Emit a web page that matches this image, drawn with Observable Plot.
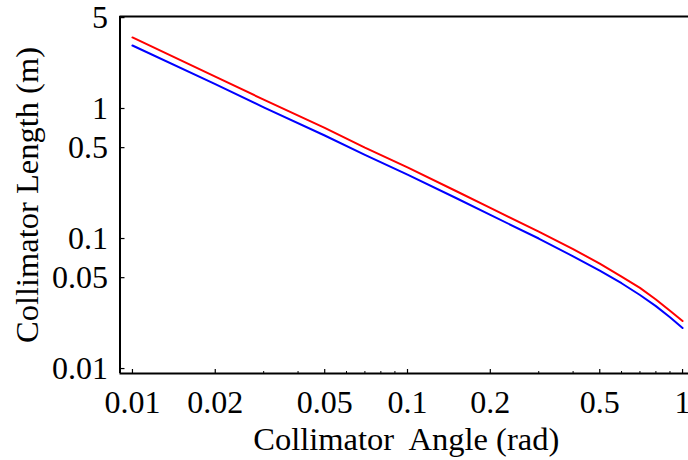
<!DOCTYPE html>
<html>
<head>
<meta charset="utf-8">
<script src="https://cdn.jsdelivr.net/npm/d3@7"></script>
<script src="https://cdn.jsdelivr.net/npm/@observablehq/plot@0.6"></script>
<style>
  html, body { margin: 0; padding: 0; background: white; }
</style>
</head>
<body>
<div id="chart"></div>
<script>
const angles      = [0.01, 0.02, 0.03, 0.05, 0.07, 0.1, 0.15, 0.2, 0.3, 0.4, 0.5, 0.6, 0.7, 0.8, 0.9, 1.0];
const redLength   = [3.52, 1.76, 1.17, 0.71, 0.50, 0.352, 0.232, 0.172, 0.113, 0.083, 0.064, 0.051, 0.0417, 0.0340, 0.0278, 0.0232];
const blueLength  = [3.05, 1.54, 1.02, 0.62, 0.44, 0.31, 0.205, 0.152, 0.100, 0.073, 0.0566, 0.0453, 0.0368, 0.0302, 0.0248, 0.0205];
const xMajorTicks = [0.01, 0.02, 0.05, 0.1, 0.2, 0.5, 1];
const xMinorTicks = [0.03, 0.04, 0.06, 0.07, 0.08, 0.09, 0.3, 0.4, 0.6, 0.7, 0.8, 0.9];
const yTicks      = [0.01, 0.05, 0.1, 0.5, 1, 5];
const xTitle = "Collimator  Angle (rad)";
const yTitle = "Collimator Length (m)";
const xDomain = [0.00901, 1.051];
const yDomain = [0.00916, 5.10];

const W = 688, H = 460, mL = 119.5, mR = 0, mT = 16, mB = 87;
const frameW = W - mL - mR, frameH = H - mT - mB;

const rows = angles.map((a, i) => ({angle: a, red: redLength[i], blue: blueLength[i]}));

const chart = Plot.plot({
  width: W,
  height: H,
  marginLeft: mL,
  marginRight: mR,
  marginTop: mT,
  marginBottom: mB,
  style: {fontFamily: "'Liberation Serif', 'Times New Roman', serif", fontSize: "32px", color: "black", background: "white", overflow: "visible"},
  x: {type: "log", domain: xDomain, axis: null},
  y: {type: "log", domain: yDomain, axis: null},
  marks: [
    Plot.line(rows, {x: "angle", y: "red", stroke: "#ff0000", strokeWidth: 2}),
    Plot.line(rows, {x: "angle", y: "blue", stroke: "#0000ff", strokeWidth: 2}),
    Plot.ruleX([xDomain[0]], {stroke: "black", strokeWidth: 2}),
    Plot.ruleY([yDomain[0]], {stroke: "black", strokeWidth: 2}),
    Plot.ruleY([yDomain[1]], {stroke: "black", strokeWidth: 2}),
    Plot.tickX(xMajorTicks, {x: d => d, insetTop: frameH - 4, stroke: "black", strokeWidth: 1.2}),
    Plot.tickX(xMinorTicks, {x: d => d, insetTop: frameH - 2, stroke: "black", strokeWidth: 1}),
    Plot.tickY(yTicks, {y: d => d, insetRight: frameW - 5, stroke: "black", strokeWidth: 1.2}),
    Plot.text(xMajorTicks, {x: d => d, text: d => String(d), frameAnchor: "bottom", lineAnchor: "top", dy: 17, fontSize: 32}),
    Plot.text(yTicks, {y: d => d, text: d => String(d), frameAnchor: "left", textAnchor: "end", lineAnchor: "middle", dx: -12, fontSize: 32}),
    Plot.text([xTitle], {frameAnchor: "bottom", textAnchor: "middle", lineAnchor: "middle", dy: 66.5, dx: 2, fontSize: 32.5}),
    Plot.text([yTitle], {frameAnchor: "left", textAnchor: "middle", lineAnchor: "middle", dx: -92, rotate: -90, fontSize: 32.5})
  ]
});
document.getElementById("chart").appendChild(chart);
</script>
</body>
</html>
